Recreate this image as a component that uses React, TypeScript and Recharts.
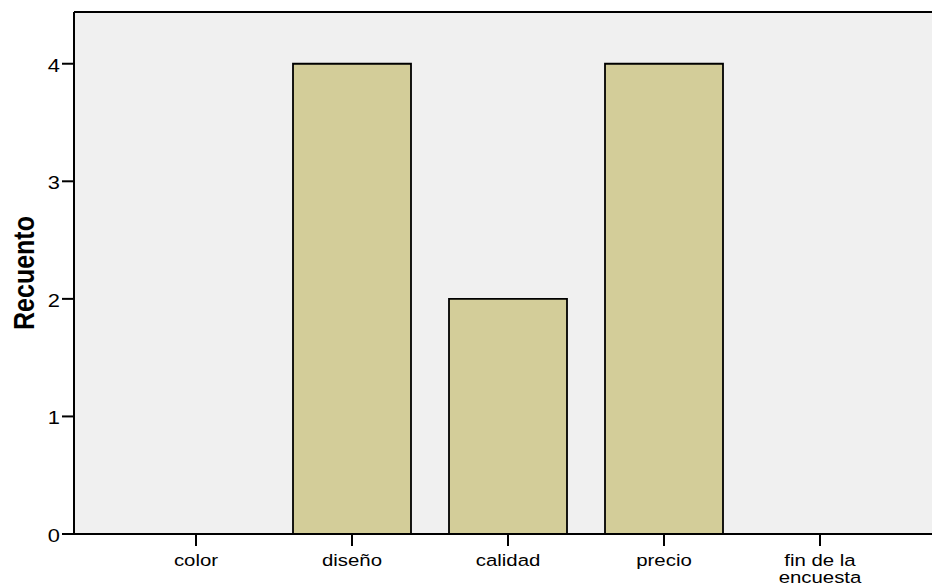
import { BarChart, Bar, XAxis, YAxis, CartesianGrid, ReferenceLine, Label } from "recharts";

const categories = ["color", "diseño", "calidad", "precio", "fin de la encuesta"];
const counts = [0, 4, 2, 4, 0];
const yTicks = [0, 1, 2, 3, 4];
const yMax = 4.44;

const data = categories.map((c, i) => ({ cat: c, count: counts[i] }));

const FONT = "'Liberation Sans', Arial, sans-serif";

function wrap(text: string, max: number) {
    const words = text.split(" ");
    const lines: string[] = [];
    let cur = "";
    for (const w of words) {
        const next = cur ? cur + " " + w : w;
        if (next.length > max && cur) {
            lines.push(cur);
            cur = w;
        } else {
            cur = next;
        }
    }
    if (cur) lines.push(cur);
    return lines;
}

const XTick = ({ x, y, payload }: any) => {
    const lines = wrap(String(payload.value), 10);
    return (
        <g transform={`translate(${x},${y})`}>
            {lines.map((l, i) => (
                <text
                    key={i}
                    transform={`translate(0,${17.5 + i * 17}) scale(1.2,1)`}
                    textAnchor="middle"
                    fontFamily={FONT}
                    fontSize={17}
                    fill="#000"
                >
                    {l}
                </text>
            ))}
        </g>
    );
};

const YTick = ({ x, y, payload }: any) => (
    <g transform={`translate(${x},${y})`}>
        <text transform="scale(1.15,1)" textAnchor="end" x={0} y={8} fontFamily={FONT} fontSize={19} fill="#000">
            {payload.value}
        </text>
    </g>
);

const YLabel = ({ viewBox }: any) => {
    const cx = viewBox.x + 26;
    const cy = viewBox.y + viewBox.height / 2;
    return (
        <text
            transform={`translate(${cx},${cy}) rotate(-90) scale(1,1.2)`}
            textAnchor="middle"
            fontFamily={FONT}
            fontWeight="bold"
            fontSize={25}
            fill="#000"
        >
            Recuento
        </text>
    );
};

export default function App() {
    return (
        <div style={{ position: "fixed", left: 8, top: 8, width: 924, height: 580, overflow: "hidden", background: "#fff" }}>
            <BarChart width={950} height={580} data={data} margin={{ top: 4, right: 16, bottom: 4, left: 0 }}>
                <CartesianGrid fill="#f0f0f0" horizontal={false} vertical={false} />
                <XAxis
                    dataKey="cat"
                    padding={{ left: 44, right: 44 }}
                    height={50}
                    interval={0}
                    tickSize={12}
                    tickMargin={2}
                    axisLine={{ stroke: "#000", strokeWidth: 2 }}
                    tickLine={{ stroke: "#000", strokeWidth: 2 }}
                    tick={<XTick />}
                />
                <YAxis
                    domain={[0, yMax]}
                    ticks={yTicks}
                    width={66}
                    tickSize={12}
                    tickMargin={2}
                    axisLine={{ stroke: "#000", strokeWidth: 2 }}
                    tickLine={{ stroke: "#000", strokeWidth: 2 }}
                    tick={<YTick />}
                    allowDataOverflow
                >
                    <Label content={<YLabel />} />
                </YAxis>
                <ReferenceLine y={yMax} stroke="#000" strokeWidth={2} ifOverflow="visible" />
                <Bar dataKey="count" fill="#d3cd99" stroke="#000" strokeWidth={1.8} barSize={118} isAnimationActive={false} />
            </BarChart>
        </div>
    );
}
